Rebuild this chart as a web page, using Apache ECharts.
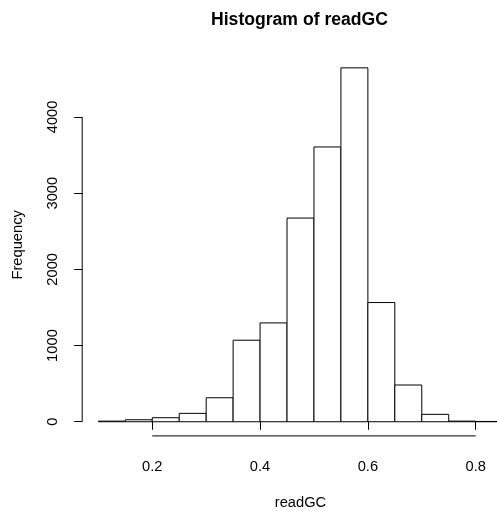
<!DOCTYPE html>
<html>
<head>
<meta charset="utf-8">
<script src="https://cdn.jsdelivr.net/npm/echarts@6/dist/echarts.min.js"></script>
<style>
html,body{margin:0;padding:0;background:#fff;}
#chart{width:497px;height:511px;}
</style>
</head>
<body>
<div id="chart"></div>
<script>
// Histogram bin edges (readGC) and frequencies
const binEdges = [0.10,0.15,0.20,0.25,0.30,0.35,0.40,0.45,0.50,0.55,0.60,0.65,0.70,0.75,0.80,0.85];
const counts   = [8, 26, 53, 110, 315, 1070, 1297, 2673, 3606, 4644, 1564, 482, 97, 8, 4];
const xTicks = [0.2, 0.4, 0.6, 0.8];
const yTicks = [0, 1000, 2000, 3000, 4000];

const FONT = 'Liberation Sans, Arial, Helvetica, sans-serif';

// R-style axis ranges (4% padding)
const xSpan = binEdges[binEdges.length-1] - binEdges[0];
const xMin = binEdges[0] - 0.04 * xSpan;
const xMax = binEdges[binEdges.length-1] + 0.04 * xSpan;
const cMax = Math.max.apply(null, counts);
const yMin = -0.04 * cMax;
const yMax = cMax * 1.04;

const barData = counts.map((c, i) => [binEdges[i], binEdges[i+1], c]);

const chart = echarts.init(document.getElementById('chart'), null, {renderer: 'canvas'});
chart.setOption({
  animation: false,
  backgroundColor: '#fff',
  title: {
    text: 'Histogram of readGC',
    left: 206, top: 6,
    textStyle: {fontFamily: FONT, fontWeight: 'bold', fontSize: 17.6, color: '#000'}
  },
  grid: {left: 82.2, right: -21.8, top: 53.7, bottom: 75.1, containLabel: false, outerBoundsMode: 'none'},
  xAxis: {
    type: 'value', min: xMin, max: xMax,
    name: 'readGC', nameLocation: 'middle', nameGap: 60,
    nameTextStyle: {fontFamily: FONT, fontSize: 14.7, color: '#000'},
    axisLine: {show: false},
    splitLine: {show: false},
    axisTick: {show: true, customValues: xTicks, length: 8, lineStyle: {color: '#000', width: 1}},
    axisLabel: {customValues: xTicks, margin: 24, fontFamily: FONT, fontSize: 14.7, color: '#000',
      formatter: v => v.toFixed(1)}
  },
  yAxis: {
    type: 'value', min: yMin, max: yMax,
    name: 'Frequency', nameLocation: 'middle', nameGap: 57,
    nameTextStyle: {fontFamily: FONT, fontSize: 14.7, color: '#000'},
    axisLine: {show: false},
    splitLine: {show: false},
    axisTick: {show: true, customValues: yTicks, length: 8, lineStyle: {color: '#000', width: 1}},
    axisLabel: {customValues: yTicks, rotate: 90, margin: 22, fontFamily: FONT, fontSize: 14.7, color: '#000',
      formatter: v => String(v)}
  },
  series: [
    {
      type: 'custom',
      clip: false,
      silent: true,
      encode: {x: [0, 1], y: 2},
      data: barData,
      renderItem: function (params, api) {
        const p0 = api.coord([api.value(0), api.value(2)]);
        const p1 = api.coord([api.value(1), 0]);
        return {
          type: 'rect',
          shape: {x: p0[0], y: p0[1], width: p1[0] - p0[0], height: p1[1] - p0[1]},
          style: {fill: '#fff', stroke: '#000', lineWidth: 1}
        };
      }
    },
    {
      type: 'line', silent: true, clip: false, symbol: 'none',
      lineStyle: {color: '#000', width: 1},
      data: [[xTicks[0], yMin], [xTicks[xTicks.length-1], yMin]]
    },
    {
      type: 'line', silent: true, clip: false, symbol: 'none',
      lineStyle: {color: '#000', width: 1},
      data: [[xMin, yTicks[0]], [xMin, yTicks[yTicks.length-1]]]
    }
  ]
});
</script>
</body>
</html>
